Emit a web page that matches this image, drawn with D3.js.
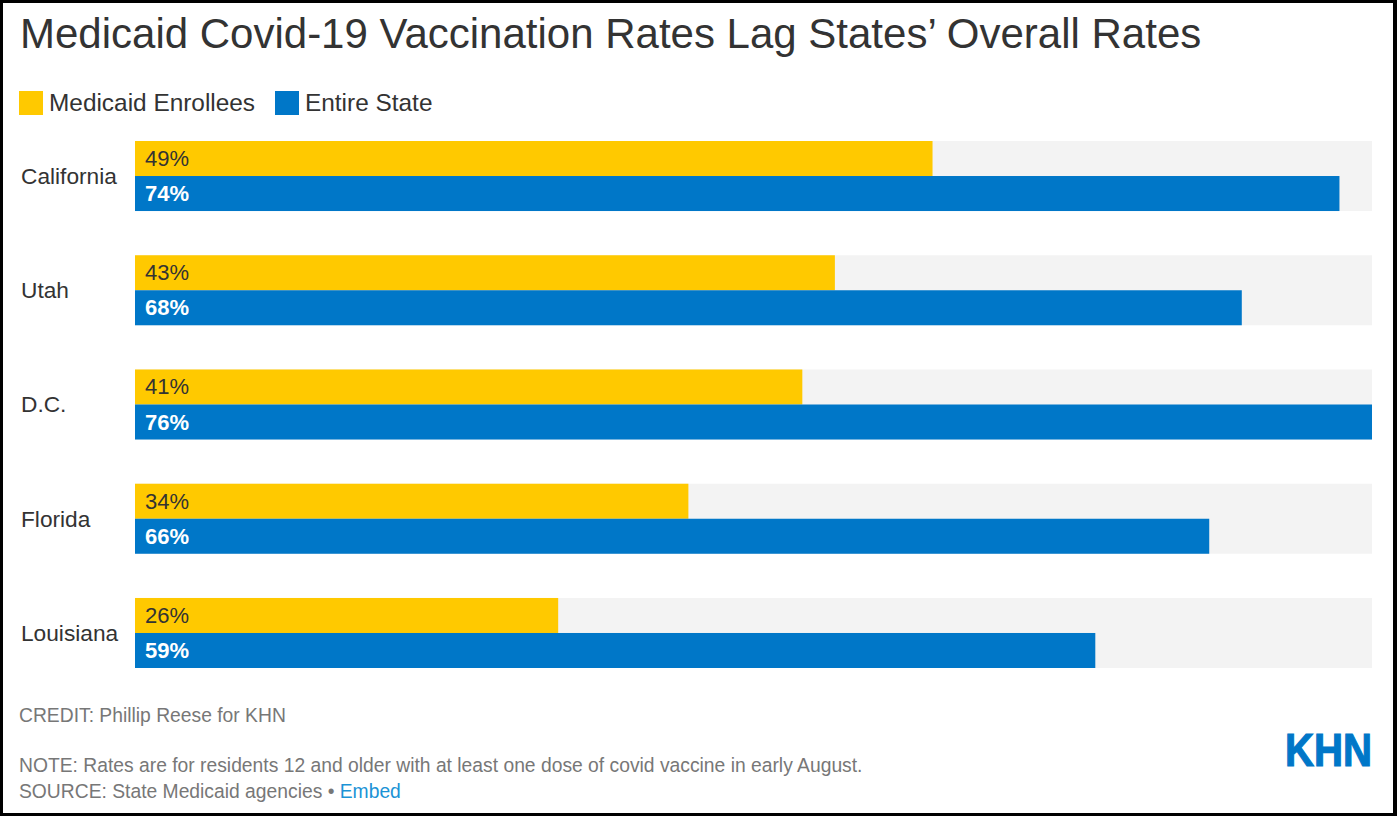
<!DOCTYPE html>
<html>
<head>
<meta charset="utf-8">
<script src="https://cdn.jsdelivr.net/npm/d3@7"></script>
<style>
  html, body { margin: 0; padding: 0; background: #000; }
  svg { display: block; }
  text { font-family: "Liberation Sans", Arial, sans-serif; }
</style>
</head>
<body>
<script>
const states = ["California", "Utah", "D.C.", "Florida", "Louisiana"];
const medicaid = [49, 43, 41, 34, 26];
const entireState = [74, 68, 76, 66, 59];
const seriesNames = ["Medicaid Enrollees", "Entire State"];
const seriesColors = ["#ffc900", "#0077c8"];
const labelColors = ["#333333", "#ffffff"];
const title = "Medicaid Covid-19 Vaccination Rates Lag States\u2019 Overall Rates";
const credit = "CREDIT: Phillip Reese for KHN";
const note = "NOTE: Rates are for residents 12 and older with at least one dose of covid vaccine in early August.";
const sourceText = "SOURCE: State Medicaid agencies \u2022 ";
const embedText = "Embed";

const W = 1397, H = 816;
const svg = d3.select("body").append("svg").attr("width", W).attr("height", H);

// frame
svg.append("rect").attr("x", 0).attr("y", 0).attr("width", W).attr("height", H).attr("fill", "#000");
svg.append("rect").attr("x", 3).attr("y", 3).attr("width", 1390).attr("height", 810).attr("fill", "#fff");

// title
svg.append("text").attr("x", 20).attr("y", 48)
  .attr("font-size", 42).attr("fill", "#333").text(title);

// legend
const legend = svg.append("g");
const legX = [19, 275];
seriesNames.forEach((n, i) => {
  legend.append("rect").attr("x", legX[i]).attr("y", 91).attr("width", 24).attr("height", 24)
    .attr("fill", seriesColors[i]);
  legend.append("text").attr("x", legX[i] + 30).attr("y", 111)
    .attr("font-size", 24.4).attr("fill", "#333").text(n);
});

// scales
const x = d3.scaleLinear().domain([0, 76]).range([135, 1372]);
const y = d3.scaleBand().domain(states).range([141, 668]).paddingInner(0.387).paddingOuter(0);
const ySub = d3.scaleBand().domain([0, 1]).range([0, y.bandwidth()]).padding(0);

const rows = svg.append("g").selectAll("g").data(states).join("g")
  .attr("transform", d => `translate(0,${y(d)})`);

rows.append("rect").attr("x", x(0)).attr("y", 0)
  .attr("width", x(76) - x(0)).attr("height", y.bandwidth()).attr("fill", "#f3f3f3");

rows.append("text").attr("x", 21).attr("y", y.bandwidth() / 2 + 8)
  .attr("font-size", 22.7).attr("fill", "#333").text(d => d);

const seriesVals = [medicaid, entireState];
rows.each(function(d, i) {
  const g = d3.select(this);
  [0, 1].forEach(s => {
    const v = seriesVals[s][i];
    g.append("rect").attr("x", x(0)).attr("y", ySub(s))
      .attr("width", x(v) - x(0)).attr("height", ySub.bandwidth())
      .attr("fill", seriesColors[s]);
    g.append("text").attr("x", x(0) + 10).attr("y", ySub(s) + ySub.bandwidth() / 2 + 7.5)
      .attr("font-size", 22).attr("fill", labelColors[s])
      .attr("font-weight", s === 1 ? "bold" : "normal")
      .text(v + "%");
  });
});

// footer
const fs = 19.3;
svg.append("text").attr("x", 19).attr("y", 722).attr("font-size", fs).attr("fill", "#777").text(credit);
svg.append("text").attr("x", 19).attr("y", 772).attr("font-size", fs).attr("fill", "#777").text(note);
const src = svg.append("text").attr("x", 19).attr("y", 798).attr("font-size", fs).attr("fill", "#777");
src.append("tspan").text(sourceText);
src.append("tspan").attr("fill", "#1b93d6").text(embedText);

// logo
svg.append("text").attr("x", 1285).attr("y", 766).attr("font-size", 46).attr("font-weight", "bold")
  .attr("fill", "#0077c8").attr("stroke", "#0077c8").attr("stroke-width", 1.2)
  .attr("textLength", 87).attr("lengthAdjust", "spacingAndGlyphs").text("KHN");
</script>
</body>
</html>
